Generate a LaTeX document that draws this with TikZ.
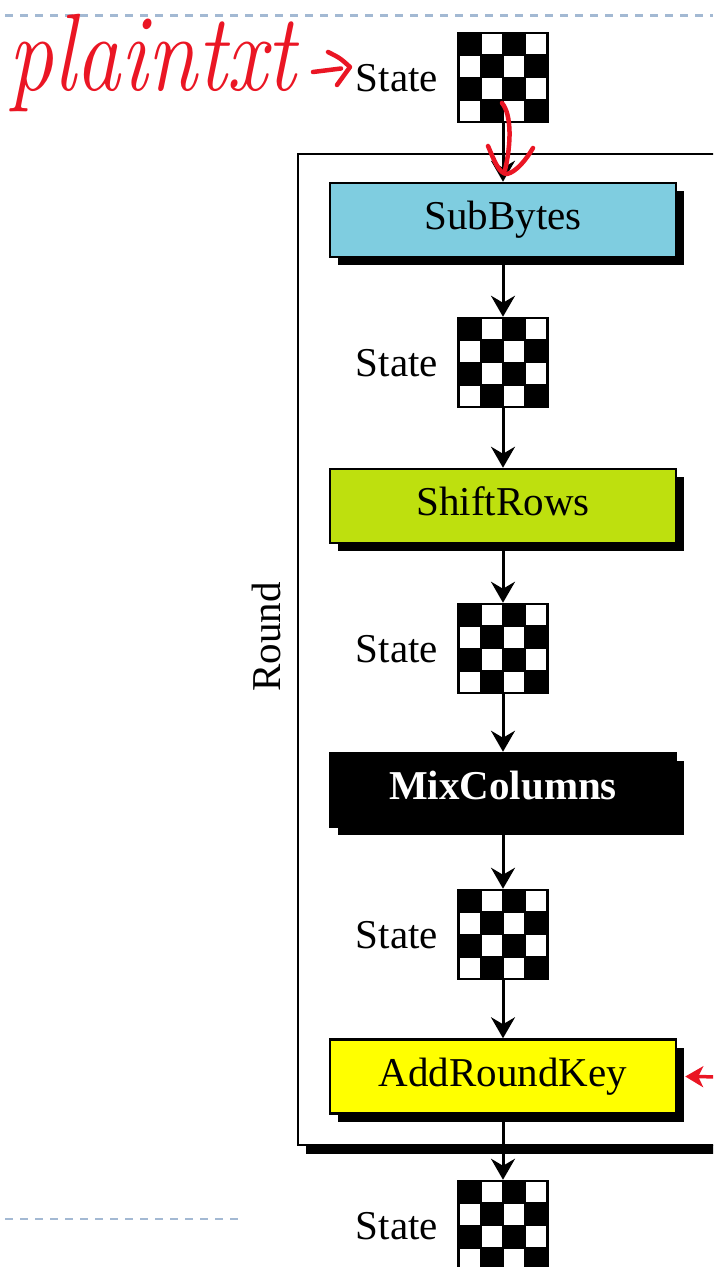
\documentclass[tikz,border=0pt]{standalone}
\usepackage{fontspec}
\newfontfamily\diagfont{Liberation Serif}
\usetikzlibrary{arrows.meta,shadows,calc}

\definecolor{subblue}{RGB}{127,205,224}
\definecolor{shiftgreen}{RGB}{190,224,14}
\definecolor{keyyellow}{RGB}{255,255,0}
\definecolor{inkred}{RGB}{234,22,36}
\definecolor{rulegray}{RGB}{163,185,211}

\newcommand\stagefont{\diagfont\fontsize{41}{41}\selectfont}

\tikzset{
  boxshadow/.style={drop shadow={shadow xshift=8pt, shadow yshift=-8pt, fill=black, opacity=1}},
  stage/.style={draw=black, line width=2.5pt, minimum width=346pt, minimum height=74pt,
    inner sep=0pt, text height=28pt, text depth=9pt, font=\stagefont, boxshadow},
  roundframe/.style={minimum width=560pt, minimum height=991pt, inner sep=0pt, outer sep=0pt},
  frameline/.style={draw=black, line width=2.5pt},
  statelbl/.style={anchor=base east, inner sep=0pt, font=\stagefont},
  stategrid/.style={draw=black, line width=2.5pt, minimum size=89pt, inner sep=0pt, fill=white,
    path picture={
      \foreach \r/\c in {0/0,0/2,1/1,1/3,2/0,2/2,3/1,3/3}
        \fill[black] ($(path picture bounding box.north west)+(\c*22.25pt,-\r*22.25pt)$)
          rectangle +(22.25pt,-22.25pt);
      \foreach \k in {1,2,3} {
        \draw[line width=1.6pt] ($(path picture bounding box.north west)+(\k*22.25pt,0pt)$) -- +(0pt,-89pt);
        \draw[line width=1.6pt] ($(path picture bounding box.north west)+(0pt,-\k*22.25pt)$) -- +(89pt,0pt);
      }
    }},
  flow/.style={line width=3pt, -{Stealth[length=21pt,width=24pt,inset=7pt]}},
  keyflow/.style={line width=3.5pt, draw=inkred, -{Stealth[length=18pt,width=21pt,inset=5pt,fill=inkred]}},
  ink/.style={draw=inkred, line width=4.5pt, line cap=round, line join=round},
  pagerule/.style={draw=rulegray, line width=2.5pt, dash pattern=on 8pt off 7pt},
}

\begin{document}
\begin{tikzpicture}[x=1pt, y=-1pt]
  \useasboundingbox (0,0) rectangle (713,1267);
  \clip (0,0) rectangle (713,1267);

  % page rules
  \draw[pagerule] (5,15.7) -- (713,15.7);
  \draw[pagerule] (5,1219) -- (243,1219);

  % handwritten note
  \node[anchor=base west, inner sep=0pt, text=inkred,
        font=\fontsize{100}{100}\selectfont\itshape] (plain) at (8,90) {\scalebox{0.9}[1.1]{plaintxt}};
  \draw[ink] (313,72) -- (341,68.5);
  \draw[ink] (328,52) .. controls (340,58) .. (350,67) -- (337,85);

  % round frame (open to the right, where it runs off the page), with its bottom shadow
  \node[roundframe] (round) at (578,649.5) {};
  \fill[black] ([xshift=8pt]round.south west) rectangle ([yshift=-9pt]round.south east);
  \draw[frameline] (round.north east) -- (round.north west) -- (round.south west) -- (round.south east);
  \node[rotate=90, anchor=base, inner sep=0pt, font=\stagefont] (roundlbl) at (280,637) {Round};

  % states and stages
  \node[stategrid] (g1) at (503,77.5) {};
  \node[statelbl] (s1) at (438,91) {State};

  \node[stage, fill=subblue] (sub) at (503,220) {SubBytes};

  \node[stategrid] (g2) at (503,362.5) {};
  \node[statelbl] (s2) at (438,376) {State};

  \node[stage, fill=shiftgreen] (shift) at (503,506) {ShiftRows};

  \node[stategrid] (g3) at (503,648.5) {};
  \node[statelbl] (s3) at (438,662) {State};

  \node[stage, fill=black, text=white, font=\stagefont\bfseries] (mix) at (503,790) {MixColumns};

  \node[stategrid] (g4) at (503,934.5) {};
  \node[statelbl] (s4) at (438,948) {State};

  \node[stage, fill=keyyellow] (ark) at (503,1076.5) {AddRoundKey};

  \node[stategrid] (g5) at (503,1225.5) {};
  \node[statelbl] (s5) at (438,1239) {State};

  % data flow
  \draw[flow] (g1.south) -- (sub.north);
  \draw[flow] (sub.south) -- (g2.north);
  \draw[flow] (g2.south) -- (shift.north);
  \draw[flow] (shift.south) -- (g3.north);
  \draw[flow] (g3.south) -- (mix.north);
  \draw[flow] (mix.south) -- (g4.north);
  \draw[flow] (g4.south) -- (ark.north);
  \draw[flow] (ark.south) -- (g5.north);

  % round key input
  \coordinate (keysrc) at (730,1077);
  \draw[keyflow] (keysrc) -- ([xshift=8pt]ark.east);

  % handwritten hook into the round
  \draw[ink] (502,103) .. controls (512,115) and (511,145) .. (505,170);
  \draw[ink] (488,146) .. controls (494,160) and (499,174) .. (507,174)
             .. controls (516,172) and (526,160) .. (533,148);
\end{tikzpicture}
\end{document}
